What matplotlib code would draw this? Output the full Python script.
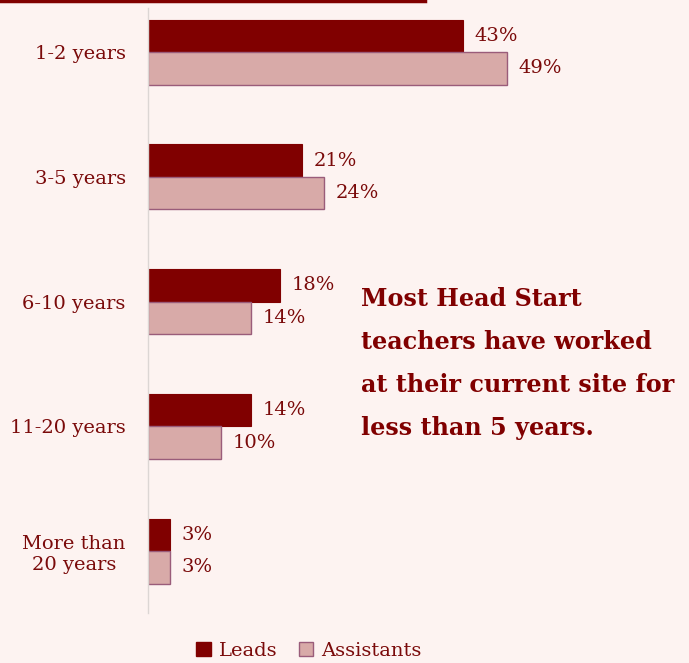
import matplotlib
matplotlib.use("Agg")
import matplotlib.pyplot as plt
from matplotlib.patches import Patch
from matplotlib.lines import Line2D

categories = ["1-2 years", "3-5 years", "6-10 years", "11-20 years", "More than\n20 years"]
leads = [43, 21, 18, 14, 3]
assistants = [49, 24, 14, 10, 3]
series_names = ["Leads", "Assistants"]

BG = "#FDF3F1"
DARK = "#800000"
LIGHT = "#D8AAA8"
EDGE = "#9A5C7A"
TXT = "#7A0A0A"

W, H = 689, 663
fig = plt.figure(figsize=(W / 100, H / 100), dpi=100, facecolor=BG)
plt.rcParams["font.family"] = ["DejaVu Serif"]

left, top, bottom, right = 148, 8, 613, 680
ax = fig.add_axes([left / W, 1 - bottom / H, (right - left) / W, (bottom - top) / H])
ax.set_facecolor(BG)
px_per_unit = 7.33
ax.set_xlim(0, (right - left) / px_per_unit)
ax.set_ylim(4.497, -0.353)

bh = 32.5 / 124.75
ys = list(range(len(categories)))
ax.barh([y - bh / 2 for y in ys], leads, height=bh, color=DARK, edgecolor=DARK, linewidth=0.8)
ax.barh([y + bh / 2 for y in ys], assistants, height=bh, color=LIGHT, edgecolor=EDGE, linewidth=1.0)

for y, v in zip(ys, leads):
    ax.text(v + 1.6, y - bh / 2, f"{v}%", va="center", ha="left", fontsize=14, color=TXT)
for y, v in zip(ys, assistants):
    ax.text(v + 1.6, y + bh / 2, f"{v}%", va="center", ha="left", fontsize=14, color=TXT)

ax.set_yticks(ys)
ax.set_yticklabels(categories, fontsize=14, color=TXT)
ax.tick_params(axis="y", length=0, pad=16)
ax.set_xticks([])
for s in ["top", "right", "bottom"]:
    ax.spines[s].set_visible(False)
ax.spines["left"].set_color("#DCD6D4")
ax.spines["left"].set_linewidth(1.0)

for lab in ax.get_yticklabels():
    lab.set_multialignment("center")

fig.text(361 / W, 1 - 287 / H,
         "Most Head Start\nteachers have worked\nat their current site for\nless than 5 years.",
         fontsize=17.2, fontweight="bold", color=DARK, va="top", ha="left", linespacing=2.0)

fig.add_artist(Line2D([0, 425 / W], [1 - 1.2 / H, 1 - 1.2 / H], color=DARK, linewidth=2.5, transform=fig.transFigure))

handles = [Patch(facecolor=DARK, edgecolor=DARK, label=series_names[0]),
           Patch(facecolor=LIGHT, edgecolor=EDGE, label=series_names[1])]
fig.legend(handles=handles, loc="center", bbox_to_anchor=(309 / W, 1 - 651 / H), ncol=2, frameon=False,
           fontsize=14, handlelength=0.75, handleheight=0.75, handletextpad=0.4, columnspacing=1.1,
           labelcolor=TXT)

fig.savefig("out.png", dpi=100, facecolor=BG)
